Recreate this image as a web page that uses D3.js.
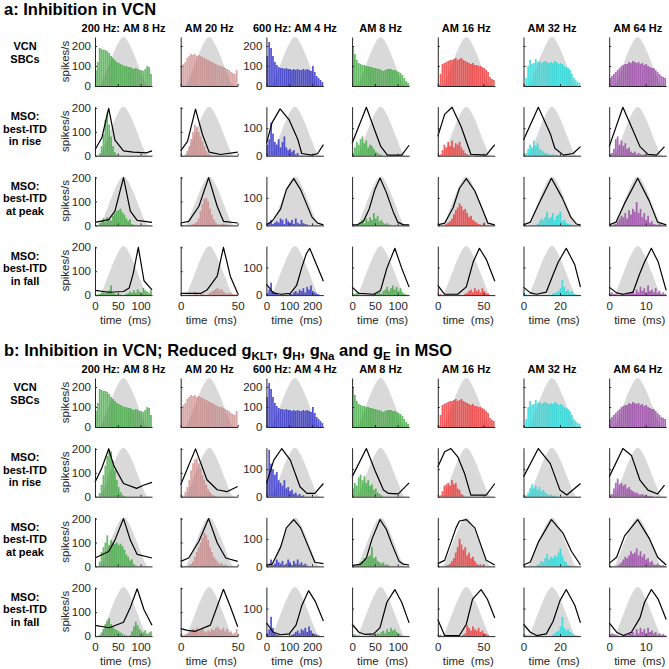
<!DOCTYPE html>
<html><head><meta charset="utf-8">
<script src="https://cdn.jsdelivr.net/npm/d3@7"></script>
<style>
body{margin:0;background:#fff;}
text{font-family:"Liberation Sans",Arial,Helvetica,sans-serif;}
</style></head>
<body>
<script>
// ---------------- DATA ----------------
const periods = [125, 50, 250, 125, 62.5, 31.25, 15.625];
const xTicks = [[0,50,100],[0,50],[0,100,200],[0,50,100],[0,50],[0,20],[0,10]];
const colTitles = ["200 Hz: AM 8 Hz","AM 20 Hz","600 Hz: AM 4 Hz","AM 8 Hz","AM 16 Hz","AM 32 Hz","AM 64 Hz"];
const colColors = ["#2ca02c","#c27070","#3030c8","#2ca02c","#f03030","#20d8d8","#9030a0"];
const colOpacity = [0.72,0.62,0.82,0.72,0.78,0.8,0.72];
const rowLabels = [["VCN","SBCs"],["MSO:","best-ITD","in rise"],["MSO:","best-ITD","at peak"],["MSO:","best-ITD","in fall"]];
const yTicksVCN = [0,100,200];
const yTicksLow = [0,100,200];
const yTicksHigh = [0,100];
// stimulus AM envelope, normalized, 21 phase samples over one period
const envelope = [0,0,0.03,0.15,0.3,0.45,0.6,0.74,0.86,0.96,1,0.96,0.86,0.74,0.6,0.45,0.3,0.15,0.03,0,0];

// VCN SBC PSTHs (spikes/s), 30 bins per period
const vcnHist = [
 [80,120,190,185,180,180,175,165,150,140,130,120,115,110,105,100,100,95,95,90,85,90,85,80,80,75,85,100,95,60],
 [100,110,120,140,150,160,155,160,150,155,150,145,140,135,130,125,120,115,110,105,100,100,95,90,85,80,70,65,60,80],
 [150,220,190,150,120,105,95,90,90,85,90,85,85,80,85,80,85,80,80,85,80,85,80,75,100,70,50,40,30,20],
 [200,160,130,115,110,105,105,100,100,95,95,90,90,85,85,80,75,80,85,85,85,80,80,75,70,65,55,40,25,15],
 [10,60,110,115,120,125,130,130,135,140,130,135,140,130,125,120,115,110,115,105,105,100,100,95,90,80,70,45,35,30],
 [10,40,100,130,110,115,135,120,125,115,120,125,120,115,120,115,125,120,110,115,110,100,95,90,80,60,40,30,20,15],
 [40,50,60,70,80,90,100,105,110,110,120,115,125,120,115,120,110,115,105,110,100,95,90,90,80,70,60,50,45,40]
];

// Panel a: MSO histograms
const aRiseHist = [
 [0,0,10,40,90,150,180,130,80,40,15,5,0,0,0,0,0,0,0,0,0,0,0,0,0,0,0,0,0,0],
 [0,0,5,20,40,70,100,130,120,100,80,60,40,20,10,5,0,0,0,0,0,0,0,0,0,0,0,0,0,0],
 [40,60,120,80,50,40,60,30,50,70,30,20,25,15,20,5,10,0,0,0,0,0,0,0,0,0,0,0,0,0],
 [10,30,50,40,60,70,45,55,30,40,35,25,15,10,5,3,0,0,0,0,0,0,0,0,0,0,0,0,0,0],
 [0,5,20,40,30,50,35,55,30,45,40,50,30,20,10,5,3,0,0,0,0,0,0,0,0,0,0,0,0,0],
 [0,10,25,40,30,55,35,45,25,20,15,10,8,5,3,5,2,3,0,0,0,0,0,0,0,0,0,0,0,0],
 [5,10,25,60,70,40,55,35,45,25,30,15,10,15,5,10,5,3,5,2,0,0,0,0,0,0,0,0,0,0]
];
const aPeakHist = [
 [0,0,10,20,30,15,35,25,20,40,50,60,65,70,55,45,30,20,25,5,3,0,0,0,0,0,0,0,0,0],
 [0,0,0,0,0,3,5,8,15,30,60,90,110,115,100,70,45,25,12,5,3,5,8,5,3,2,0,0,0,0],
 [0,10,20,5,10,15,10,25,20,5,25,15,10,20,5,25,10,5,20,8,5,3,0,0,0,0,0,0,0,0],
 [0,0,3,5,10,20,8,25,15,30,20,45,25,35,15,20,10,5,8,3,2,0,0,0,0,0,0,0,0,0],
 [0,0,0,0,5,10,15,25,40,55,65,80,70,55,60,45,30,35,20,15,10,5,3,0,10,0,0,0,0,0],
 [0,0,0,0,0,0,0,5,15,25,20,30,50,25,30,45,20,35,40,50,15,20,10,5,3,2,0,0,0,0],
 [0,0,3,5,15,25,35,30,45,25,55,40,60,50,85,45,60,30,45,20,35,10,15,5,3,2,5,3,0,0]
];
const aFallHist = [
 [0,3,5,10,15,8,15,20,40,10,5,3,0,2,0,0,5,8,15,10,20,10,25,15,10,30,20,15,10,20],
 [0,0,0,0,0,0,0,15,5,0,8,5,3,0,5,10,15,20,25,30,20,25,15,10,5,8,10,5,3,5],
 [5,20,45,15,10,5,0,0,2,0,0,0,5,3,10,15,8,20,15,25,10,30,20,35,15,10,5,3,0,0],
 [3,5,8,2,0,0,0,0,0,0,0,3,5,8,10,5,15,20,30,15,25,35,20,30,15,25,10,5,3,0],
 [3,5,0,0,0,0,0,0,0,0,0,0,0,0,5,8,15,20,10,25,15,20,10,25,15,8,5,0,0,0],
 [5,3,0,0,0,0,0,0,0,0,0,0,0,0,0,5,8,10,15,25,55,30,15,20,10,15,5,3,2,0],
 [5,10,5,3,2,0,5,3,2,8,5,10,15,5,20,10,30,15,25,10,35,15,20,10,25,8,15,5,10,5]
];
// Panel b: MSO histograms
const bRiseHist = [
 [0,0,15,50,90,130,170,200,190,150,110,70,40,20,8,3,0,0,0,0,0,0,0,0,0,0,0,0,0,0],
 [0,5,20,40,70,110,140,155,160,140,120,90,70,50,30,20,10,5,3,0,0,0,0,0,0,0,0,0,0,0],
 [60,170,120,100,80,90,60,50,40,60,30,35,20,25,10,15,5,10,3,5,0,0,0,0,0,0,0,0,0,0],
 [30,50,40,70,80,60,75,50,60,40,45,25,30,15,10,5,0,0,0,0,0,0,0,0,0,0,0,0,0,0],
 [0,5,20,40,45,50,40,60,45,50,30,25,10,5,0,0,0,0,0,0,0,0,0,0,0,0,0,0,0,0],
 [0,5,15,30,45,30,40,25,35,20,25,15,10,5,8,3,5,2,0,0,0,0,0,0,0,0,0,0,0,0],
 [5,10,30,50,65,45,50,40,45,30,35,25,20,15,15,10,8,10,5,5,3,3,2,0,0,0,0,0,0,0]
];
const bPeakHist = [
 [0,0,20,60,80,100,130,90,110,100,95,100,90,95,85,70,50,40,25,30,10,3,0,0,0,0,0,0,0,0],
 [0,0,0,0,5,10,20,40,60,80,100,120,140,130,110,80,60,40,30,20,10,15,5,8,3,0,0,0,0,0],
 [0,10,25,5,10,25,15,10,20,5,10,25,15,5,20,10,25,8,15,5,10,3,0,0,0,0,0,0,0,0],
 [0,0,3,8,15,20,30,25,35,40,70,30,35,20,15,10,15,5,8,3,0,0,0,0,0,0,0,0,0,0],
 [0,0,0,0,3,5,10,20,30,50,70,100,80,60,70,40,50,30,35,20,10,5,8,3,0,0,0,0,0,0],
 [0,0,0,0,0,0,0,5,10,20,15,30,45,25,35,30,40,35,50,65,40,20,15,5,3,2,0,0,0,0],
 [0,0,0,0,3,8,15,25,35,30,40,55,45,50,65,40,55,35,45,25,30,15,20,8,5,10,5,3,5,2]
];
const bFallHist = [
 [0,0,5,15,30,50,65,75,50,40,30,25,20,15,10,5,3,0,5,20,40,60,45,30,20,15,25,10,15,20],
 [10,5,8,10,15,20,30,25,35,20,25,30,20,15,25,20,30,25,35,40,30,25,35,20,30,15,20,10,15,30],
 [10,25,70,30,10,5,3,0,0,0,0,0,0,5,8,15,20,10,25,20,30,15,35,20,10,8,5,3,0,0],
 [5,8,3,2,0,0,0,0,0,5,3,8,5,10,8,15,20,10,25,15,30,20,25,15,10,5,0,0,0,0],
 [3,5,0,0,0,0,0,0,0,0,0,0,0,5,10,40,30,20,35,25,20,30,15,20,10,8,3,0,0,0],
 [3,5,3,2,0,0,0,0,0,0,0,0,0,0,0,5,10,15,20,35,70,30,20,25,15,10,5,3,2,0],
 [5,10,8,3,2,0,0,0,5,3,8,10,15,5,25,10,30,15,25,10,30,15,20,10,15,5,10,5,8,3]
];

// MSO rate vs. time curves: [phase (fraction of period), spikes/s]
const aRiseLine = [
 [[0,25],[0.12,75],[0.24,198],[0.35,65],[0.5,20],[0.67,15],[0.9,12],[1,20]],
 [[0,20],[0.12,60],[0.26,195],[0.38,90],[0.5,15],[0.7,5],[1,15]],
 [[0,45],[0.1,120],[0.24,170],[0.4,130],[0.55,60],[0.62,8],[0.8,2],[0.9,8],[1,40]],
 [[0,45],[0.25,176],[0.42,80],[0.5,35],[0.62,2],[0.87,2],[1,38]],
 [[0,70],[0.12,150],[0.25,176],[0.41,105],[0.58,5],[0.85,2],[1,40]],
 [[0,57],[0.26,176],[0.47,80],[0.55,27],[0.7,2],[0.87,8],[1,33]],
 [[0,33],[0.24,176],[0.39,105],[0.54,33],[0.68,5],[0.83,2],[0.97,33]]
];
const aPeakLine = [
 [[0,13],[0.24,24],[0.35,60],[0.5,200],[0.62,60],[0.74,21],[1,13]],
 [[0,10],[0.14,17],[0.32,80],[0.49,200],[0.64,80],[0.75,17],[1,10]],
 [[0,2],[0.1,15],[0.25,60],[0.35,130],[0.48,170],[0.6,130],[0.7,80],[0.8,30],[0.9,8],[1,2]],
 [[0,2],[0.1,3],[0.2,15],[0.3,60],[0.4,130],[0.49,172],[0.6,120],[0.72,50],[0.8,12],[0.9,2],[1,2]],
 [[0,2],[0.12,8],[0.27,65],[0.38,135],[0.5,170],[0.65,125],[0.77,65],[0.88,8],[1,2]],
 [[0,2],[0.12,12],[0.26,75],[0.49,171],[0.68,100],[0.83,30],[0.93,5],[1,2]],
 [[0,2],[0.12,12],[0.27,80],[0.5,171],[0.7,90],[0.85,12],[1,2]]
];
const aFallLine = [
 [[0,20],[0.25,12],[0.5,15],[0.6,30],[0.67,90],[0.76,200],[0.86,60],[1,22]],
 [[0,7],[0.35,7],[0.46,21],[0.64,79],[0.75,200],[0.87,79],[1,7]],
 [[0,40],[0.12,8],[0.25,3],[0.42,6],[0.53,35],[0.62,100],[0.7,150],[0.76,170],[0.88,110],[1,50]],
 [[0,29],[0.12,6],[0.38,3],[0.5,17],[0.61,98],[0.75,170],[0.87,98],[1,29]],
 [[0,35],[0.12,3],[0.35,3],[0.5,30],[0.62,120],[0.73,170],[0.85,130],[1,50]],
 [[0,29],[0.12,8],[0.23,3],[0.4,11],[0.52,75],[0.61,120],[0.75,170],[0.9,110],[1,29]],
 [[0,29],[0.13,8],[0.24,3],[0.42,11],[0.53,75],[0.62,120],[0.74,170],[0.86,120],[1,17]]
];
const bRiseLine = [
 [[0,60],[0.12,120],[0.24,200],[0.33,130],[0.5,55],[0.73,35],[0.85,48],[1,60]],
 [[0,50],[0.26,200],[0.46,71],[0.64,29],[0.81,21],[1,43]],
 [[0,48],[0.13,133],[0.27,175],[0.42,133],[0.59,36],[0.71,12],[0.85,12],[1,48]],
 [[0,72],[0.25,175],[0.4,96],[0.55,24],[0.64,12],[0.81,10],[1,50]],
 [[0,108],[0.12,163],[0.23,175],[0.35,145],[0.47,84],[0.58,6],[0.85,6],[1,48]],
 [[0,72],[0.26,175],[0.47,120],[0.64,24],[0.76,6],[1,48]],
 [[0,72],[0.24,175],[0.39,150],[0.54,60],[0.68,24],[0.85,10],[0.97,42]]
];
const bPeakLine = [
 [[0,35],[0.24,62],[0.35,110],[0.5,200],[0.62,110],[0.74,50],[1,35]],
 [[0,21],[0.14,35],[0.32,105],[0.49,200],[0.64,99],[0.79,35],[1,21]],
 [[0,5],[0.1,8],[0.25,70],[0.35,140],[0.48,170],[0.6,140],[0.72,80],[0.85,15],[1,10]],
 [[0,3],[0.15,8],[0.25,30],[0.35,100],[0.49,170],[0.6,135],[0.7,80],[0.82,20],[0.9,8],[1,5]],
 [[0,10],[0.12,22],[0.32,140],[0.38,165],[0.5,170],[0.65,140],[0.85,22],[1,5]],
 [[0,5],[0.12,16],[0.26,88],[0.49,170],[0.69,122],[0.84,55],[1,5]],
 [[0,11],[0.13,33],[0.27,111],[0.5,170],[0.71,99],[0.85,33],[1,5]]
];
const bFallLine = [
 [[0,45],[0.25,35],[0.5,58],[0.62,120],[0.74,198],[0.86,110],[1,45]],
 [[0,31],[0.12,24],[0.26,20],[0.52,46],[0.75,196],[0.87,124],[1,39]],
 [[0,48],[0.12,14],[0.25,5],[0.4,8],[0.52,40],[0.62,110],[0.74,165],[0.86,125],[1,55]],
 [[0,43],[0.12,14],[0.23,6],[0.38,8],[0.49,31],[0.61,123],[0.75,169],[0.87,123],[1,48]],
 [[0,60],[0.12,2],[0.38,2],[0.5,43],[0.61,134],[0.76,169],[0.87,134],[1,66]],
 [[0,43],[0.12,14],[0.23,2],[0.4,8],[0.52,54],[0.64,129],[0.75,169],[0.9,112],[1,48]],
 [[0,48],[0.13,14],[0.25,2],[0.39,14],[0.54,66],[0.62,123],[0.74,169],[0.86,134],[1,60]]
];

// ---------------- LAYOUT ----------------
const W = 669, H = 669;
const colX0 = 95, colStep = 85.7, plotW = 57, plotH = 49, rowStep = 69.7;
const panelTops = [37, 378];
const panels = [
  {hists:[vcnHist,aRiseHist,aPeakHist,aFallHist], lines:[null,aRiseLine,aPeakLine,aFallLine]},
  {hists:[vcnHist,bRiseHist,bPeakHist,bFallHist], lines:[null,bRiseLine,bPeakLine,bFallLine]}
];
const axisColor = "#262626";

const svg = d3.select("body").append("svg").attr("width", W).attr("height", H);

// Panel titles
svg.append("text").attr("x", 4).attr("y", 14.5)
  .attr("font-size", 16.5).attr("font-weight", "bold").attr("fill", "#000")
  .text("a: Inhibition in VCN");
const tb = svg.append("text").attr("x", 4).attr("y", 355.5)
  .attr("font-size", 16.5).attr("font-weight", "bold").attr("fill", "#000");
const tParts = [["b: Inhibition in VCN; Reduced g",0],["KLT",1],[", g",0],["H",1],[", g",0],["Na",1],[" and g",0],["E",1],[" in MSO",0]];
let sub = false;
tParts.forEach(([s, isSub]) => {
  const ts = tb.append("tspan").text(s);
  if (isSub && !sub) { ts.attr("dy", 4).attr("font-size", 11.5); sub = true; }
  else if (isSub) { ts.attr("font-size", 11.5); }
  else if (!isSub && sub) { ts.attr("dy", -4); sub = false; }
});

const envPts = envelope.map((v, i) => [i / (envelope.length - 1), v]);

panels.forEach((panel, p) => {
  const top0 = panelTops[p];
  // column titles
  colTitles.forEach((t, c) => {
    svg.append("text").attr("x", colX0 + c * colStep + plotW / 2).attr("y", top0 - 5.5)
      .attr("text-anchor", "middle").attr("font-size", 11).attr("font-weight", "bold")
      .attr("fill", "#000").text(t);
  });
  for (let r = 0; r < 4; r++) {
    const top = top0 + r * rowStep, bottom = top + plotH, mid = (top + bottom) / 2;
    // row labels
    const lbl = rowLabels[r];
    const offs = lbl.length === 2 ? [-11.5, 1.5] : [-11, 1.5, 14];
    lbl.forEach((s, k) => {
      svg.append("text").attr("x", 25).attr("y", mid + offs[k]).attr("text-anchor", "middle")
        .attr("font-size", 11).attr("font-weight", "bold").attr("fill", "#000").text(s);
    });
    // spikes/s
    svg.append("text").attr("transform", `translate(69,${mid}) rotate(-90)`)
      .attr("text-anchor", "middle").attr("font-size", 11.5).attr("fill", axisColor).text("spikes/s");

    for (let c = 0; c < 7; c++) {
      const T = periods[c];
      const x0 = colX0 + c * colStep;
      const x = d3.scaleLinear().domain([0, T]).range([x0, x0 + plotW]);
      const ymax = r === 0 ? 245 : (c < 2 ? 205 : 178);
      const y = d3.scaleLinear().domain([0, ymax]).range([bottom, top]);
      const g = svg.append("g");
      // envelope
      g.append("path").datum(envPts)
        .attr("d", d3.area().curve(d3.curveMonotoneX)
          .x(d => x(d[0] * T)).y0(y(0)).y1(d => y(d[1] * ymax)))
        .attr("fill", "#d9d9d9");
      // histogram
      const hist = panel.hists[r][c];
      const bw = T / hist.length;
      g.selectAll("rect.bar").data(hist).enter().append("rect")
        .attr("x", (d, i) => x(i * bw))
        .attr("width", Math.max(0.6, x(bw) - x(0) - 0.15))
        .attr("y", d => y(d))
        .attr("height", d => y(0) - y(d))
        .attr("fill", colColors[c]).attr("fill-opacity", colOpacity[c]);
      // line
      const ln = panel.lines[r];
      if (ln) {
        g.append("path").datum(ln[c])
          .attr("d", d3.line().x(d => x(d[0] * T)).y(d => y(d[1])))
          .attr("fill", "none").attr("stroke", "#000").attr("stroke-width", 1.2)
          .attr("stroke-linejoin", "round");
      }
      // axes
      const showY = (c === 0 || c === 2);
      const yt = r === 0 ? yTicksVCN : (c < 2 ? yTicksLow : yTicksHigh);
      const ya = g.append("g").attr("transform", `translate(${x0},0)`)
        .call(d3.axisLeft(y).tickValues(yt).tickSize(-2).tickSizeOuter(0).tickPadding(4)
          .tickFormat(showY ? d3.format("d") : () => ""));
      const showX = r === 3;
      const xa = g.append("g").attr("transform", `translate(0,${bottom})`)
        .call(d3.axisBottom(x).tickValues(xTicks[c]).tickSize(-2).tickSizeOuter(0).tickPadding(7)
          .tickFormat(showX ? d3.format("d") : () => ""));
      [ya, xa].forEach(a => {
        a.select(".domain").attr("stroke", axisColor).attr("stroke-width", 1);
        a.selectAll(".tick line").attr("stroke", axisColor);
        a.selectAll(".tick text").attr("fill", axisColor).attr("font-size", 11.5)
          .attr("font-family", '"Liberation Sans",Arial,Helvetica,sans-serif');
      });
      if (showX) {
        svg.append("text").attr("x", x0 + plotW / 2 + 2).attr("y", bottom + 28.5)
          .attr("text-anchor", "middle").attr("font-size", 11.5).attr("fill", axisColor)
          .style("white-space", "pre").text("time  (ms)");
      }
    }
  }
});
</script>
</body></html>
